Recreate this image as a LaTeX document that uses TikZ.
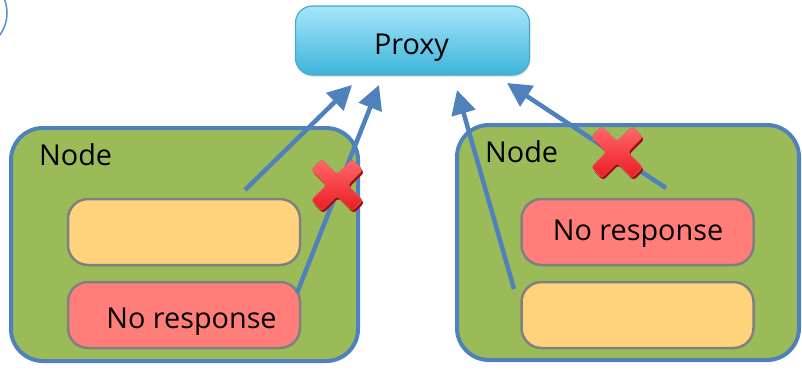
\documentclass[tikz,border=0pt]{standalone}
\usepackage{fontspec}
\setmainfont{Open Sans}
\usetikzlibrary{arrows.meta,shadows}
\definecolor{nodegreen}{HTML}{9BBB59}
\definecolor{nodeblue}{HTML}{4F81BD}
\definecolor{slotyellow}{HTML}{FED37B}
\definecolor{slotred}{HTML}{FF7E7A}
\definecolor{slotedge}{HTML}{808080}
\definecolor{proxytop}{HTML}{A6E6FA}
\definecolor{proxybot}{HTML}{3DB4DA}
\definecolor{proxyedge}{HTML}{4BA8CA}
\definecolor{crosstop}{HTML}{FF6A6A}
\definecolor{crossbot}{HTML}{EC1A22}
\definecolor{crossdark}{HTML}{A80C12}
\definecolor{ringblue}{HTML}{5B8FD0}

\tikzset{
  redcross/.pic={
    % dark underside gives the cross its raised look
    \fill[crossdark, rounded corners=3pt, xshift=1.5pt, yshift=-2.5pt]
      (0,10.61) -- (15.20,25.81) -- (25.81,15.20) -- (10.61,0)
      -- (25.81,-15.20) -- (15.20,-25.81) -- (0,-10.61)
      -- (-15.20,-25.81) -- (-25.81,-15.20) -- (-10.61,0)
      -- (-25.81,15.20) -- (-15.20,25.81) -- cycle;
    \shade[top color=crosstop, bottom color=crossbot, rounded corners=3pt]
      (0,10.61) -- (15.20,25.81) -- (25.81,15.20) -- (10.61,0)
      -- (25.81,-15.20) -- (15.20,-25.81) -- (0,-10.61)
      -- (-15.20,-25.81) -- (-25.81,-15.20) -- (-10.61,0)
      -- (-25.81,15.20) -- (-15.20,25.81) -- cycle;
    \draw[crossdark!60, line width=0.5pt, rounded corners=3pt]
      (0,10.61) -- (15.20,25.81) -- (25.81,15.20) -- (10.61,0)
      -- (25.81,-15.20) -- (15.20,-25.81) -- (0,-10.61)
      -- (-15.20,-25.81) -- (-25.81,-15.20) -- (-10.61,0)
      -- (-25.81,15.20) -- (-15.20,25.81) -- cycle;
  }
}

\begin{document}
\begin{tikzpicture}[x=1pt,y=-1pt,
  font=\fontsize{28.8}{34}\selectfont,
  container/.style={draw=nodeblue, line width=4pt, fill=nodegreen,
    rounded corners=32pt, inner sep=0pt,
    drop shadow={opacity=0.18, shadow xshift=1pt, shadow yshift=-2pt}},
  slot/.style={draw=slotedge, line width=2.5pt, rounded corners=20pt,
    minimum width=232pt, minimum height=66pt, inner sep=0pt},
  proxybox/.style={draw=proxyedge, line width=1.2pt, rounded corners=17pt,
    top color=proxytop, bottom color=proxybot,
    minimum width=234pt, minimum height=69pt, inner sep=0pt,
    drop shadow={opacity=0.2, shadow xshift=1pt, shadow yshift=-2pt}},
  lbl/.style={anchor=base, inner sep=0pt, text=black},
  conn/.style={draw=nodeblue, line width=4.5pt,
    -{Triangle[length=24pt,width=24pt]}}
]
\useasboundingbox (0,0) rectangle (802,369);
\clip (0,0) rectangle (802,369);

% ring peeking in at the corner
\node[draw=ringblue, line width=1.5pt, circle, minimum size=74pt, inner sep=0pt]
  (ring) at (-30,13) {};

% proxy
\node[proxybox] (proxy) at (412.5,40.5) {};
\node[lbl] (proxytxt) at (411.5,55) {Proxy};

% two storage nodes
\node[container, minimum width=347pt, minimum height=233pt] (left) at (184.5,244.5) {};
\node[container, minimum width=342pt, minimum height=235pt] (right) at (628,242.5) {};
\node[lbl, anchor=base west] (lefttxt) at (39,165) {Node};
\node[lbl, anchor=base west] (righttxt) at (485,162) {Node};

% slots inside the nodes
\node[slot, fill=slotyellow] (ly) at (184,232) {};
\node[slot, fill=slotred] (lr) at (184,315) {};
\node[slot, fill=slotred] (rr) at (637.5,232) {};
\node[slot, fill=slotyellow] (ry) at (637.5,315) {};
\node[lbl] (lrtxt) at (191.5,328) {No response};
\node[lbl] (rrtxt) at (638,240) {No response};

% request arrows towards the proxy
\coordinate (s1) at (245,190);  \coordinate (t1) at (352,85);
\coordinate (s2) at (297,293);  \coordinate (t2) at (379,85);
\coordinate (s3) at (514,289);  \coordinate (t3) at (457,90);
\coordinate (s4) at (666,188);  \coordinate (t4) at (507,83);
\draw[conn] (s1) -- (t1);
\draw[conn] (s2) -- (t2);
\draw[conn] (s3) -- (t3);
\draw[conn] (s4) -- (t4);

% failed replies
\pic (xleft) at (337,185) {redcross};
\pic (xright) at (617,152) {redcross};
\end{tikzpicture}
\end{document}
